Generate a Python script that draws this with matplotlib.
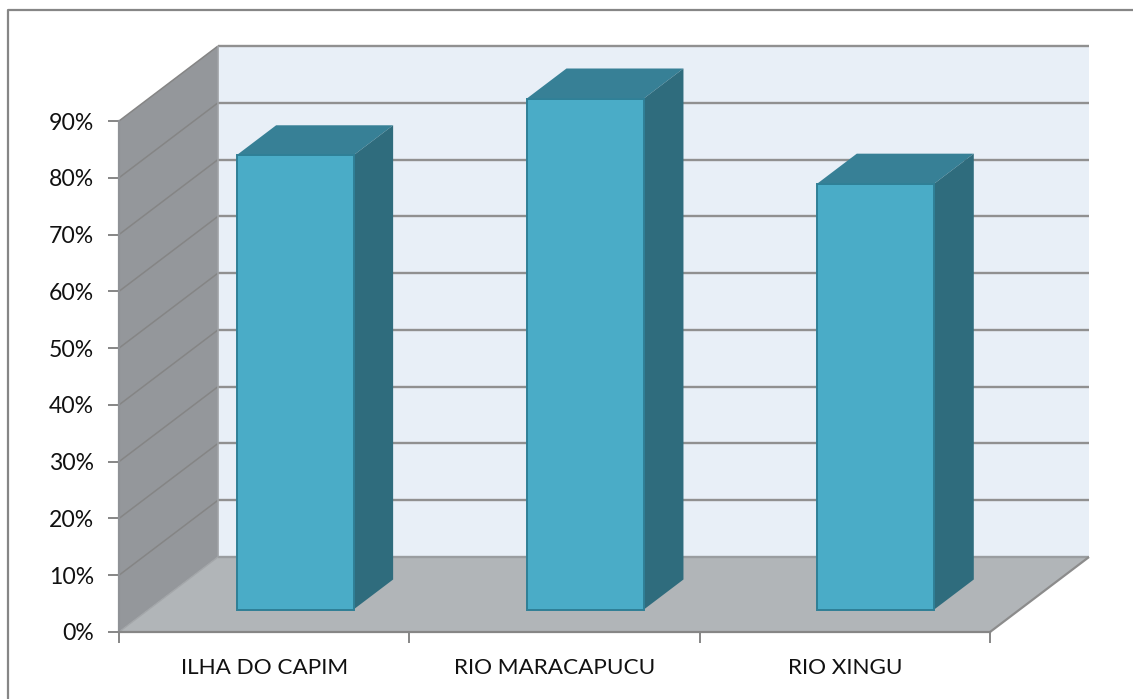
import matplotlib
matplotlib.use('Agg')
import matplotlib.pyplot as plt
from matplotlib.patches import Polygon

categories = ['ILHA DO CAPIM', 'RIO MARACAPUCU', 'RIO XINGU']
values = [80, 90, 75]
yticks = [0, 10, 20, 30, 40, 50, 60, 70, 80, 90]

W, H = 1133, 699
# front plane of the fake 3d box, in pixels
left, right, bottom, top = 119, 990, 632, 121
depth_px = (99, 75)

plt.rcParams['font.family'] = ['Lato', 'DejaVu Sans']

fig = plt.figure(figsize=(W / 100, H / 100), dpi=100)
ax = fig.add_axes([left / W, 1 - bottom / H, (right - left) / W, (bottom - top) / H])
ax.set_xlim(0, 3)
ax.set_ylim(0, 90)
ax.patch.set_visible(False)

dx = depth_px[0] * 3 / (right - left)
dy = depth_px[1] * 90 / (bottom - top)


def pt(x, y, d):
    # d goes 0 (front) to 1 (back wall)
    return (x + dx * d, y + dy * d)


def poly(points, color, edge='none', lw=0, z=1):
    ax.add_patch(Polygon(points, closed=True, facecolor=color, edgecolor=edge,
                         linewidth=lw, zorder=z, clip_on=False))


def gline(a, b, color='#8c8c8c', lw=1.5, z=3):
    ax.plot([a[0], b[0]], [a[1], b[1]], color=color, lw=lw, zorder=z, clip_on=False,
            solid_capstyle='butt')


# back wall, side wall, floor
poly([pt(0, 0, 1), pt(3, 0, 1), pt(3, 90, 1), pt(0, 90, 1)], '#e8eff7')
poly([pt(0, 0, 0), pt(0, 0, 1), pt(0, 90, 1), pt(0, 90, 0)], '#94979b')
poly([pt(0, 0, 0), pt(3, 0, 0), pt(3, 0, 1), pt(0, 0, 1)], '#b1b5b8', z=2)

# gridlines go along the side wall and then the back wall
for t in yticks:
    if t > 0:
        gline(pt(0, t, 0), pt(0, t, 1), color='#858585', lw=1.1)
        gline(pt(0, t, 1), pt(3, t, 1), color='#909090', lw=1.7)
gline(pt(0, 0, 1), pt(3, 0, 1), color='#9a9da0', lw=1.7)
gline(pt(0, 0, 1), pt(0, 90, 1), color='#a0a3a6', lw=1.2)
gline(pt(0, 0, 0), pt(0, 0, 1), color='#a3a6a9', lw=1)
gline(pt(3, 0, 0), pt(3, 0, 1), lw=1.6)

# bars
bar_w = 117 * 3 / (right - left)
d0, d1 = 0.3, 0.7
for i, v in enumerate(values):
    x0 = i + 0.5 - bar_w / 2 + 0.004
    x1 = x0 + bar_w
    z = 5 + i
    poly([pt(x0, v, d0), pt(x1, v, d0), pt(x1, v, d1), pt(x0, v, d1)], '#378096', z=z)
    poly([pt(x1, 0, d0), pt(x1, 0, d1), pt(x1, v, d1), pt(x1, v, d0)], '#2f6c7d', z=z)
    poly([pt(x0, 0, d0), pt(x1, 0, d0), pt(x1, v, d0), pt(x0, v, d0)], '#4aacc7',
         edge='#2f7f96', lw=1.4, z=z + 0.5)

for s in ['top', 'right']:
    ax.spines[s].set_visible(False)
for s in ['left', 'bottom']:
    ax.spines[s].set_color('#868686')
    ax.spines[s].set_linewidth(1.6)
    ax.spines[s].set_zorder(4)
ax.spines['left'].set_color('#8f9296')

ax.set_yticks(yticks)
ax.set_yticklabels(['%d%%' % t for t in yticks])
ax.set_xticks([0, 1, 2, 3])
ax.set_xticklabels([])
ax.tick_params(axis='both', color='#868686', width=1.4, length=8, labelsize=16.6, pad=10,
               labelcolor='#111111')
for i, c in enumerate(categories):
    ax.annotate(c, (i + 0.5, 0), xytext=(0, -36), textcoords='offset pixels', ha='center',
                va='center', fontsize=16.2, color='#111111', annotation_clip=False)

# outer frame, open on the right and at the bottom
fig.add_artist(plt.Line2D([8 / W, 8 / W, 1], [0, 1 - 10 / H, 1 - 10 / H], color='#868686',
                          linewidth=1.6, transform=fig.transFigure))

fig.savefig('out.png', dpi=100, facecolor='white')
